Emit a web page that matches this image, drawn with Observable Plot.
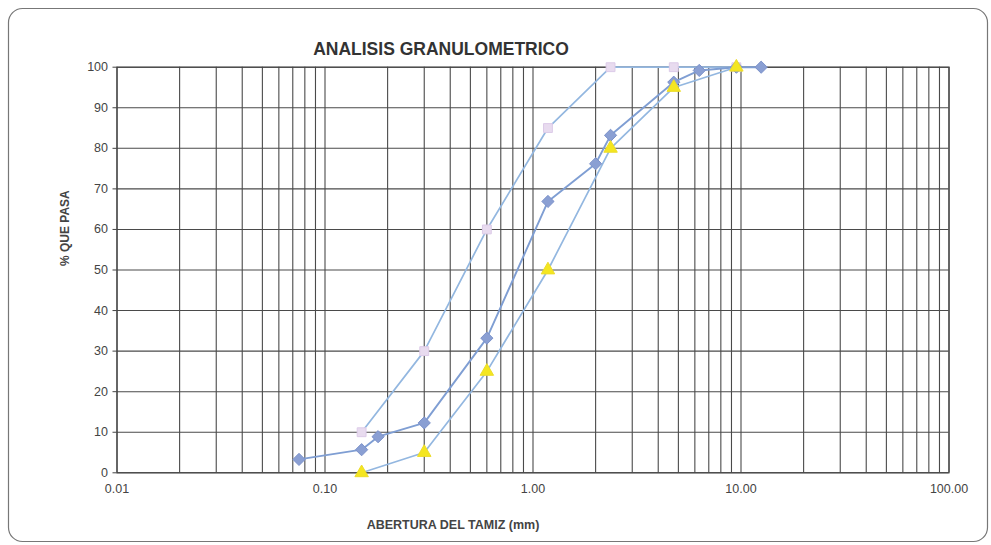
<!DOCTYPE html>
<html>
<head>
<meta charset="utf-8">
<script src="https://cdn.jsdelivr.net/npm/d3@7"></script>
<script src="https://cdn.jsdelivr.net/npm/@observablehq/plot@0.6"></script>
<style>
  html, body { margin: 0; padding: 0; background: #fff; }
  #chart { width: 991px; height: 545px; }
</style>
</head>
<body>
<div id="chart"></div>
<script>
// ---- data ----
const title = "ANALISIS GRANULOMETRICO";
const xLabel = "ABERTURA DEL TAMIZ (mm)";
const yLabel = "% QUE PASA";

// sample gradation (diamonds)
const sieves  = [0.075, 0.15, 0.18, 0.30, 0.60, 1.18, 2.00, 2.36, 4.75, 6.30, 9.50, 12.50];
const passing = [3.3,   5.7,  8.9,  12.3, 33.2, 66.9, 76.2, 83.2, 96.3, 99.2, 100,  100];

// specification limits
const limitSieves = [0.15, 0.30, 0.60, 1.18, 2.36, 4.75, 9.50];
const upperLimit  = [10,   30,   60,   85,   100,  100,  100];   // squares
const lowerLimit  = [0,    5,    25,   50,   80,   95,   100];   // triangles

// axis ticks
const xTicks = [0.01, 0.1, 1, 10, 100];
const yTicks = [0, 10, 20, 30, 40, 50, 60, 70, 80, 90, 100];
const decades = [0.01, 0.1, 1, 10];
const multipliers = [1, 2, 3, 4, 5, 6, 7, 8, 9];

// ---- tables ----
const gradation = sieves.map((s, i) => ({x: s, y: passing[i]}));
const upper = limitSieves.map((s, i) => ({x: s, y: upperLimit[i]}));
const lower = limitSieves.map((s, i) => ({x: s, y: lowerLimit[i]}));
const gridX = decades.flatMap(d => multipliers.map(m => d * m)).concat([100]);

const lineLimit = "#93b7e0";
const lineGrad = "#7f9ed3";

const chart = Plot.plot({
  width: 991,
  height: 545,
  marginLeft: 116.5,
  marginRight: 42.5,
  marginTop: 66.7,
  marginBottom: 72.7,
  style: {fontFamily: "'Liberation Sans', Arial, sans-serif", fontSize: "12px", color: "#444", background: "#fff"},
  x: {type: "log", domain: [0.01, 100]},
  y: {domain: [0, 100]},
  marks: [
    Plot.ruleX(gridX, {stroke: "#4a4a4a", strokeWidth: 1.1}),
    Plot.ruleY(yTicks, {stroke: "#4a4a4a", strokeWidth: 1.1}),
    Plot.frame({stroke: "#444", strokeWidth: 1.2}),
    Plot.axisX(xTicks, {tickFormat: d3.format(".2f"), tickSize: 0, tickPadding: 11, label: null, fontSize: 12.5}),
    Plot.axisY(yTicks, {tickSize: 4, tickPadding: 5, label: null, fontSize: 12.5}),
    Plot.line(upper, {x: "x", y: "y", stroke: lineLimit, strokeWidth: 1.7}),
    Plot.line(gradation, {x: "x", y: "y", stroke: lineGrad, strokeWidth: 1.9}),
    Plot.line(lower, {x: "x", y: "y", stroke: lineLimit, strokeWidth: 1.7}),
    Plot.dot(upper, {x: "x", y: "y", symbol: "square", r: 5, fill: "#e8dbef", stroke: "#dccbe8", strokeWidth: 1}),
    Plot.dot(gradation, {x: "x", y: "y", symbol: "diamond2", r: 5.5, fill: "#8a9fd3", stroke: "#7c92ca", strokeWidth: 1}),
    Plot.dot(lower, {x: "x", y: "y", symbol: "triangle", r: 5, fill: "#f4e620", stroke: "#ecdc2a", strokeWidth: 1}),
    Plot.text([title], {text: d => d, frameAnchor: "top", dx: -92, dy: -25, fontWeight: "bold", fontSize: 17.5, fill: "#333"}),
    Plot.text([xLabel], {text: d => d, frameAnchor: "bottom", dx: -80, dy: 56, fontWeight: "bold", fontSize: 12.5, fill: "#444"}),
    Plot.text([yLabel], {text: d => d, frameAnchor: "left", dx: -52, dy: -4, rotate: -90, fontWeight: "bold", fontSize: 12, fill: "#444"})
  ]
});

// outer rounded border of the chart area
d3.select(chart).append("rect")
  .attr("x", 8.5).attr("y", 8.5)
  .attr("width", 979).attr("height", 533)
  .attr("rx", 14).attr("ry", 14)
  .attr("fill", "none").attr("stroke", "#777").attr("stroke-width", 1.2);

document.getElementById("chart").appendChild(chart);
</script>
</body>
</html>
